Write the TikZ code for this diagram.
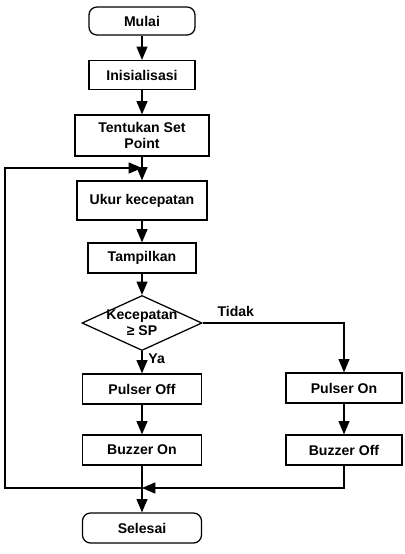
\documentclass[tikz,border=0pt]{standalone}
\usepackage{fontspec}
\setmainfont{Liberation Sans}
\usetikzlibrary{arrows,shapes.geometric}

\begin{document}
\begin{tikzpicture}[x=0.025cm,y=-0.025cm,
    font=\bfseries\fontsize{10}{11.5}\selectfont,
    proses/.style={draw,line width=0.9pt,minimum width=#1,minimum height=0.75cm,align=center,inner sep=2pt},
    terminal/.style={proses=#1,rounded corners=0.2cm},
    keputusan/.style={draw,diamond,line width=0.9pt,minimum width=3cm,minimum height=1.375cm,inner sep=0pt},
    panah/.style={line width=1.2pt,-triangle 45},
    ket/.style={inner sep=1pt}]
  \useasboundingbox (0,0) rectangle (404,554);
  % blocks
  \node[terminal=2.65cm,minimum height=0.7cm] (mulai) at (142,21) {Mulai};
  \node[proses=2.65cm,minimum height=0.725cm] (init) at (142,75) {Inisialisasi};
  \node[proses=3.35cm,minimum height=1.025cm] (setpoint) at (142,135.5) {Tentukan Set\\Point};
  \node[proses=3.25cm,minimum height=0.975cm] (ukur) at (142,200.5) {Ukur kecepatan};
  \node[proses=2.7cm] (tampil) at (142,258) {Tampilkan};
  \node[keputusan,label={[align=center]center:Kecepatan\\≥ SP}] (cek) at (142,323) {};
  \node[proses=2.975cm] (poff) at (142,389) {Pulser Off};
  \node[proses=2.975cm] (bon) at (142,450) {Buzzer On};
  \node[proses=2.9cm] (pon) at (344,388) {Pulser On};
  \node[proses=2.9cm] (boff) at (344,450) {Buzzer Off};
  \node[terminal=2.975cm] (selesai) at (142,528) {Selesai};
  \coordinate (balik) at (142,168);
  \coordinate (gabung) at (142,488);
  \coordinate (kiri) at (5,488);
  % arrows
  \draw[panah] (mulai) -- (init);
  \draw[panah] (init) -- (setpoint);
  \draw[panah] (setpoint) -- (ukur);
  \draw[panah] (ukur) -- (tampil);
  \draw[panah] (tampil) -- (cek);
  \draw[panah] (cek) -- node[ket,pos=0.35,anchor=west,xshift=3pt] (ya) {Ya} (poff);
  \draw[panah] (cek.east) -| node[ket,pos=0,anchor=south west,xshift=9pt,yshift=3pt] (tidak) {Tidak} (pon);
  \draw[panah] (poff) -- (bon);
  \draw[panah] (pon) -- (boff);
  \draw[panah] (bon) -- (selesai);
  \draw[panah] (boff) |- (gabung);
  \draw[panah] (gabung) -- (kiri) |- (balik);
\end{tikzpicture}
\end{document}
